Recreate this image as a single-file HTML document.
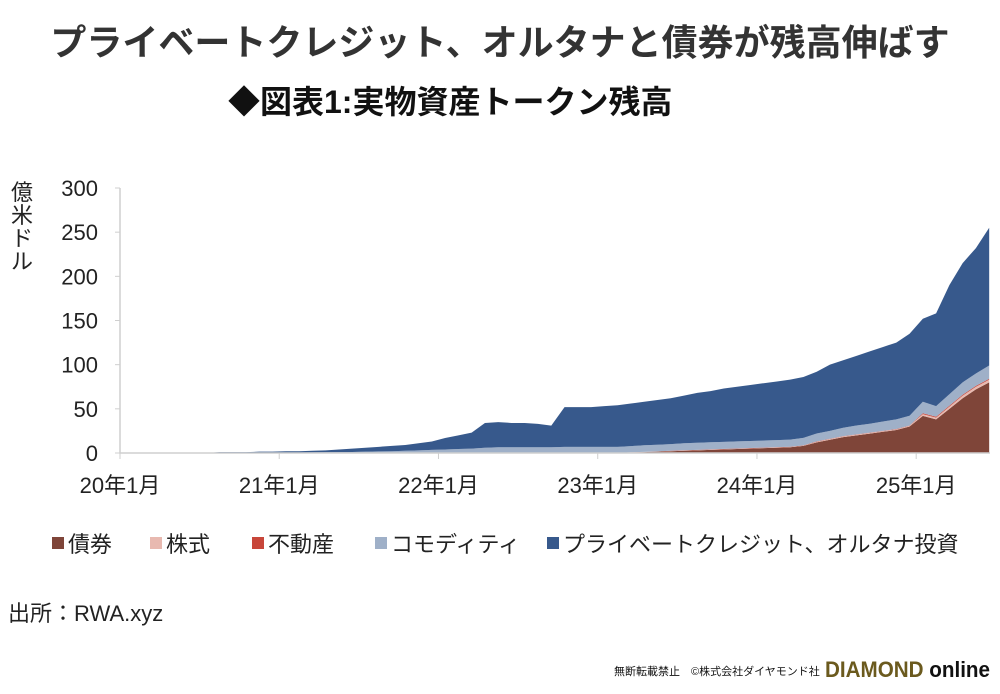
<!DOCTYPE html>
<html><head><meta charset="utf-8">
<style>
body{margin:0;background:#fff;width:1000px;height:689px;overflow:hidden;font-family:"Liberation Sans","Noto Sans CJK JP",sans-serif;}
svg text{font-family:"Liberation Sans","Noto Sans CJK JP",sans-serif;}
</style></head><body>
<svg id="chart" width="1000" height="689" xmlns="http://www.w3.org/2000/svg">
<text x="500" y="55" text-anchor="middle" font-size="36" font-weight="bold" fill="#333">プライベートクレジット、オルタナと債券が残高伸ばす</text>
<text x="228" y="113" font-size="32" font-weight="bold" fill="#111">◆図表1:実物資産トークン残高</text>
<g font-size="22" fill="#222" text-anchor="middle">
<text x="22" y="200">億</text><text x="22" y="223">米</text><text x="22" y="246">ド</text><text x="22" y="269">ル</text>
</g>
<g id="plot"></g>
<g id="legend"></g>
<text x="8" y="621" font-size="22" fill="#222">出所：RWA.xyz</text>
<text x="614" y="675" font-size="11" fill="#111">無断転載禁止　©株式会社ダイヤモンド社</text>
<text x="825" y="677" font-size="22" font-weight="bold" fill="#6b5a1e" textLength="165" lengthAdjust="spacingAndGlyphs">DIAMOND<tspan fill="#111"> online</tspan></text>
</svg>
<script>
const yTicks=[0,50,100,150,200,250,300];
const xTickLabels=["20年1月","21年1月","22年1月","23年1月","24年1月","25年1月"];
const seriesNames=["債券","株式","不動産","コモディティ","プライベートクレジット、オルタナ投資"];
const bonds=[0,0,0,0,0,0,0,0,0,0,0,0,0,0,0,0,0,0,0,0,0,0,0,0,0,0,0,0,0,0,0,0,0,0,0,0,0,0,0.5,1,1.5,2,2.5,3,3.5,4,4.5,5,5.5,6,6.5,8,12,15,18,20,22,24,26,30,42,38,50,62,72,80];
const stocks=[0,0,0,0,0,0,0,0,0,0,0,0,0,0,0,0,0,0,0,0,0,0,0,0,0,0,0,0,0,0,0,0,0,0,0,0,0,0,0.3,0.3,0.3,0.3,0.3,0.3,0.3,0.3,0.3,0.3,0.3,0.3,0.3,0.3,0.8,0.8,0.8,0.8,0.8,0.8,0.8,0.8,2,2,2.5,3,3,3];
const realEstate=[0,0,0,0,0,0,0,0,0,0,0,0,0,0,0,0,0,0,0,0,0,0,0,0,0,0,0,0,0,0,0,0,0,0,0,0,0,0,0,0,0,0.3,0.3,0.3,0.3,0.3,0.3,0.3,0.3,0.3,0.3,0.3,0.3,0.3,0.3,0.3,0.3,0.3,0.3,0.3,1,1,1,1,1,1];
const commodity=[0,0,0,0,0,0,0,0.3,0.3,0.3,0.3,0.3,0.5,0.6,0.7,0.8,1,1.2,1.5,1.8,2,2.5,3,3.5,4,4.5,5,6,6.5,6.5,6.5,6.5,6.5,7,7,7,7,7,7,7.5,7.5,7.5,8,8,8,8,8,8,8,8,8,8.5,9,9,9.5,10,10,10.5,11,11,13,12,13,14,14,15];
const privateCredit=[0,0,0,0,0,0,0,0.7,0.7,0.7,1.2,1.2,1.5,1.4,1.8,2.2,3,3.8,4.5,5.2,6,6.5,8,9.5,13,15.5,18,28,28.5,27.5,27.5,26.5,24.5,45,45,45,46,47,48.2,49.2,50.7,51.9,53.9,56.4,57.9,60.4,61.9,63.4,64.9,66.4,67.9,68.9,69.9,74.9,76.4,78.9,81.9,84.4,86.9,92.9,94,105,123.5,135,142,156];
const NS="http://www.w3.org/2000/svg";
const X0=120,MPX=13.27,Y0=453,YPX=265/300;
const xs=i=>X0+(i+0.5)*MPX, ys=v=>Y0-v*YPX;
const plot=document.getElementById('plot');
function mk(tag,attrs){const e=document.createElementNS(NS,tag);for(const k in attrs)e.setAttribute(k,attrs[k]);return e;}
const series=[bonds,stocks,realEstate,commodity,privateCredit];
const colors=["#7f4539","#e8b9b0","#c8463a","#9fb0c8","#37598c"];
const keys=["bonds","stocks","real-estate","commodity","private-credit"];
let base=bonds.map(()=>0);
series.forEach((s,k)=>{
  const top=s.map((v,i)=>base[i]+v);
  let d="";
  top.forEach((v,i)=>{d+=(i?"L":"M")+xs(i)+","+ys(v);});
  for(let i=top.length-1;i>=0;i--){d+="L"+xs(i)+","+ys(base[i]);}
  const p=mk('path',{d:d+"Z",fill:colors[k]});
  
  
  plot.appendChild(p);
  base=top;
});
const ax=mk('path',{d:`M${X0},188V${Y0}H990`,stroke:"#cfcfcf","stroke-width":1.5,fill:"none"});


plot.appendChild(ax);
yTicks.forEach(t=>{
  const l=mk('line',{x1:X0-5,x2:X0,y1:ys(t),y2:ys(t),stroke:"#cfcfcf"});
  
  
  plot.appendChild(l);
  const tx=mk('text',{x:98,y:ys(t)+8,"text-anchor":"end","font-size":22,fill:"#222"});
  tx.textContent=t;
  
  
  plot.appendChild(tx);
});
xTickLabels.forEach((lab,j)=>{
  const x=X0+j*12*MPX;
  const l=mk('line',{x1:x,x2:x,y1:Y0,y2:Y0+6,stroke:"#cfcfcf"});
  
  
  plot.appendChild(l);
  const tx=mk('text',{x:x,y:493,"text-anchor":"middle","font-size":22,fill:"#222"});
  tx.textContent=lab;
  
  
  plot.appendChild(tx);
});
const leg=document.getElementById('legend');
const legX=[52,150,252,375,547];
seriesNames.forEach((n,k)=>{
  const r=mk('rect',{x:legX[k],y:537,width:12,height:12,fill:colors[k]});
  
  
  leg.appendChild(r);
  const t=mk('text',{x:legX[k]+16,y:552,"font-size":22,fill:"#222"});
  t.textContent=n;
  
  
  leg.appendChild(t);
});
</script>
</body></html>
